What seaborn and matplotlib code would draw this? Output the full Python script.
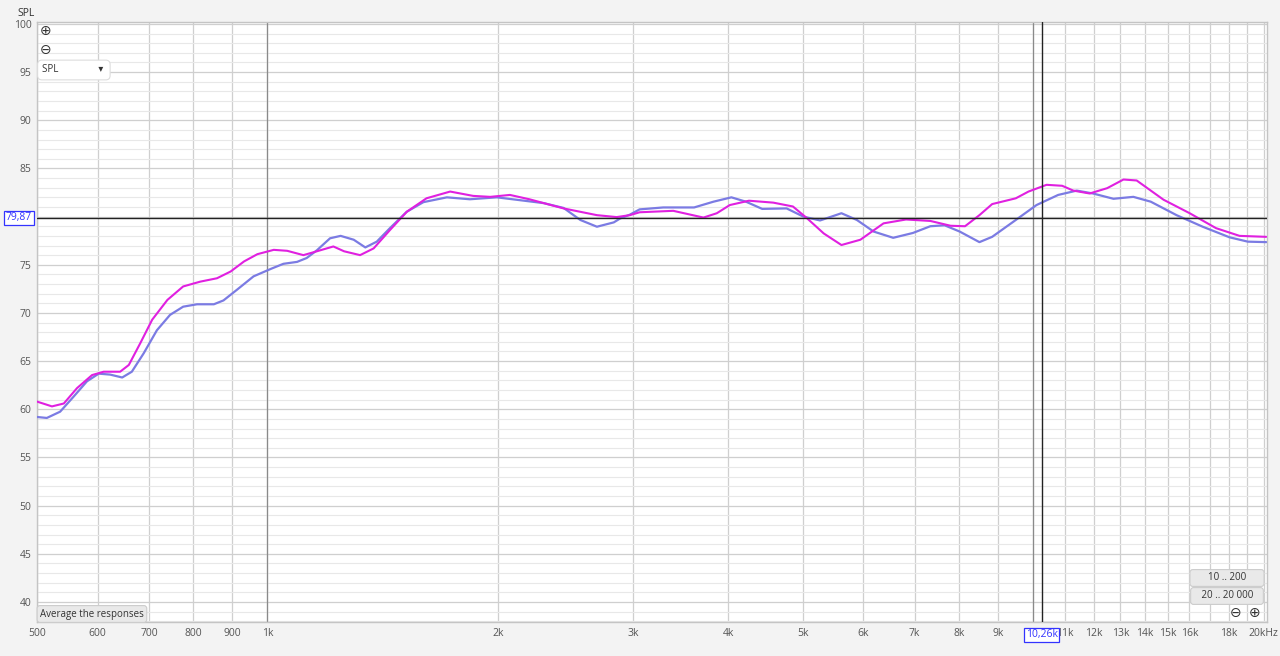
import numpy as np
import pandas as pd
import matplotlib.pyplot as plt
import matplotlib.transforms as mtransforms
import seaborn as sns

# frequency response (Hz, dB SPL)
freq_blue = [500, 515, 536, 558, 581, 602, 623, 646, 665, 689, 717, 746, 776, 809, 851,
             876, 912, 959, 1012, 1049, 1093, 1125, 1160, 1207, 1246, 1296, 1342, 1389,
             1445, 1520, 1598, 1715, 1838, 1993, 2139, 2294, 2436, 2562, 2693, 2833, 2887,
             2973, 3062, 3287, 3607, 3824, 4035, 4215, 4427, 4764, 5010, 5268, 5618, 5885,
             6188, 6564, 6964, 7339, 7660, 8016, 8507, 8839, 9490, 10100, 10780, 11400,
             11970, 12730, 13515, 14240, 15390, 16650, 18050, 19070, 20150]
spl_blue = [59.2, 59.1, 59.75, 61.3, 62.9, 63.7, 63.6, 63.3, 63.9, 65.8, 68.2, 69.8, 70.65,
            70.9, 70.9, 71.3, 72.4, 73.8, 74.6, 75.1, 75.3, 75.7, 76.5, 77.75, 78.0, 77.6,
            76.8, 77.4, 78.8, 80.5, 81.5, 82.0, 81.8, 82.0, 81.7, 81.4, 80.9, 79.65, 78.95,
            79.4, 79.8, 80.2, 80.75, 80.95, 80.95, 81.55, 82.0, 81.55, 80.8, 80.85, 80.0,
            79.6, 80.35, 79.65, 78.45, 77.8, 78.3, 79.0, 79.1, 78.45, 77.35, 77.9, 79.65,
            81.2, 82.25, 82.7, 82.4, 81.85, 82.05, 81.55, 80.15, 78.95, 77.85, 77.4, 77.35]

freq_mag = [500, 523, 542, 564, 590, 611, 642, 659, 682, 707, 740, 776, 817, 859, 895, 932,
            970, 1019, 1061, 1114, 1160, 1219, 1259, 1321, 1376, 1445, 1520, 1613, 1732,
            1856, 1954, 2073, 2198, 2436, 2693, 2857, 2973, 3062, 3388, 3710, 3862, 4016,
            4254, 4577, 4855, 5062, 5327, 5618, 5947, 6376, 6822, 7339, 7800, 8146, 8507,
            8839, 9490, 9860, 10410, 10910, 11280, 11850, 12490, 13120, 13650, 14800,
            16010, 17330, 18600, 20150]
spl_mag = [60.8, 60.3, 60.6, 62.2, 63.55, 63.9, 63.9, 64.6, 66.85, 69.3, 71.35, 72.75,
           73.25, 73.6, 74.3, 75.35, 76.1, 76.55, 76.45, 76.0, 76.4, 76.9, 76.4, 76.0,
           76.7, 78.6, 80.5, 81.9, 82.6, 82.15, 82.05, 82.25, 81.8, 80.85, 80.15, 79.95,
           80.15, 80.45, 80.6, 79.9, 80.35, 81.2, 81.65, 81.45, 81.05, 79.85, 78.25, 77.05,
           77.6, 79.3, 79.7, 79.55, 79.05, 79.0, 80.15, 81.3, 81.9, 82.6, 83.3, 83.2, 82.7,
           82.4, 82.95, 83.85, 83.75, 81.75, 80.35, 78.8, 78.0, 77.9]

x_grid = [500, 600, 700, 800, 900, 1000, 2000, 3000, 4000, 5000, 6000, 7000, 8000, 9000,
          10000, 11000, 12000, 13000, 14000, 15000, 16000, 17000, 18000, 19000, 20000]
x_labels = ['500', '600', '700', '800', '900', '1k', '2k', '3k', '4k', '5k', '6k', '7k',
            '8k', '9k', '', '11k', '12k', '13k', '14k', '15k', '16k', '', '18k', '', '20kHz']
y_major = list(range(40, 101, 5))
y_labels = ['40', '45', '50', '55', '60', '65', '70', '75', '', '85', '90', '95', '100']

cursor_spl = 79.87
cursor_freq = 10260

blue = '#7b7be3'
magenta = '#e020e0'

sns.set_style('white')
plt.rcParams['font.family'] = ['Open Sans', 'DejaVu Sans']

fig = plt.figure(figsize=(12.8, 6.56), dpi=100, facecolor='#f3f3f3')
ax = fig.add_axes([37 / 1280, 1 - 622 / 656, 1230 / 1280, 600 / 656])
ax.set_facecolor('white')

ax.set_xscale('log')
ax.set_xlim(500, 20200)
ax.set_ylim(37.92, 100.2)

# grid
ax.set_xticks(x_grid)
ax.set_xticklabels(x_labels)
ax.xaxis.set_minor_locator(plt.NullLocator())
ax.set_yticks(y_major)
ax.set_yticklabels(y_labels)
ax.set_yticks(range(38, 101), minor=True)
ax.grid(True, which='major', axis='both', color='#cfcfcf', lw=0.9)
ax.grid(True, which='minor', axis='y', color='#e8e8e8', lw=0.8)
ax.axvline(1000, color='#8a8a8a', lw=0.9, zorder=1)
ax.axvline(10000, color='#8a8a8a', lw=0.9, zorder=1)
ax.tick_params(axis='both', length=0, labelsize=7.5, colors='#555555', pad=4)
for sp in ax.spines.values():
    sp.set_color('#c4c4c4')
    sp.set_linewidth(1)

sns.lineplot(x=freq_blue, y=spl_blue, ax=ax, color=blue, lw=1.6, sort=False, zorder=3,
             solid_joinstyle='round', solid_capstyle='round')
sns.lineplot(x=freq_mag, y=spl_mag, ax=ax, color=magenta, lw=1.5, sort=False, zorder=4,
             solid_joinstyle='round', solid_capstyle='round')
ax.set_xlabel('')
ax.set_ylabel('')

# cursors
ax.axhline(cursor_spl, color='#222222', lw=1.0, zorder=5)
ax.axvline(cursor_freq, color='#222222', lw=1.0, zorder=5)
ax.text(-0.004, cursor_spl, '79,87', transform=mtransforms.blended_transform_factory(ax.transAxes, ax.transData),
        ha='right', va='center', fontsize=7.5, color='#3333ff',
        bbox=dict(boxstyle='square,pad=0.15', fc='white', ec='#3333ff', lw=0.9))
ax.text(cursor_freq, -0.012, '10,26k', transform=mtransforms.blended_transform_factory(ax.transData, ax.transAxes),
        ha='center', va='top', fontsize=7.5, color='#3333ff',
        bbox=dict(boxstyle='square,pad=0.15', fc='white', ec='#3333ff', lw=0.9))

# UI bits
fig.text(17 / 1280, 1 - 13 / 656, 'SPL', fontsize=7.5, color='#333333', ha='left', va='center')
fig.text(46 / 1280, 1 - 31 / 656, '⊕', fontsize=10, color='#333333', ha='center', va='center', family='DejaVu Sans')
fig.text(46 / 1280, 1 - 50 / 656, '⊖', fontsize=10, color='#333333', ha='center', va='center', family='DejaVu Sans')
fig.text(42 / 1280, 1 - 70 / 656, 'SPL                ▾ ', fontsize=7, color='#333333', ha='left', va='center',
         family=['Open Sans', 'DejaVu Sans'],
         bbox=dict(boxstyle='round,pad=0.45', fc='white', ec='#dddddd', lw=0.8))
fig.text(40 / 1280, 1 - 614 / 656, 'Average the responses', fontsize=7, color='#333333', ha='left', va='center',
         bbox=dict(boxstyle='round,pad=0.3', fc='#e9e9e9', ec='#cccccc', lw=0.8))
fig.text(1227 / 1280, 1 - 578 / 656, '      10 .. 200      ', fontsize=7, color='#333333', ha='center', va='center',
         bbox=dict(boxstyle='round,pad=0.3', fc='#e9e9e9', ec='#cccccc', lw=0.8))
fig.text(1227 / 1280, 1 - 596 / 656, '   20 .. 20 000   ', fontsize=7, color='#333333', ha='center', va='center',
         bbox=dict(boxstyle='round,pad=0.3', fc='#e9e9e9', ec='#cccccc', lw=0.8))
fig.text(1236 / 1280, 1 - 613 / 656, '⊖', fontsize=10, color='#333333', ha='center', va='center', family='DejaVu Sans')
fig.text(1255 / 1280, 1 - 613 / 656, '⊕', fontsize=10, color='#333333', ha='center', va='center', family='DejaVu Sans')

fig.savefig('out.png', dpi=100, facecolor=fig.get_facecolor())
